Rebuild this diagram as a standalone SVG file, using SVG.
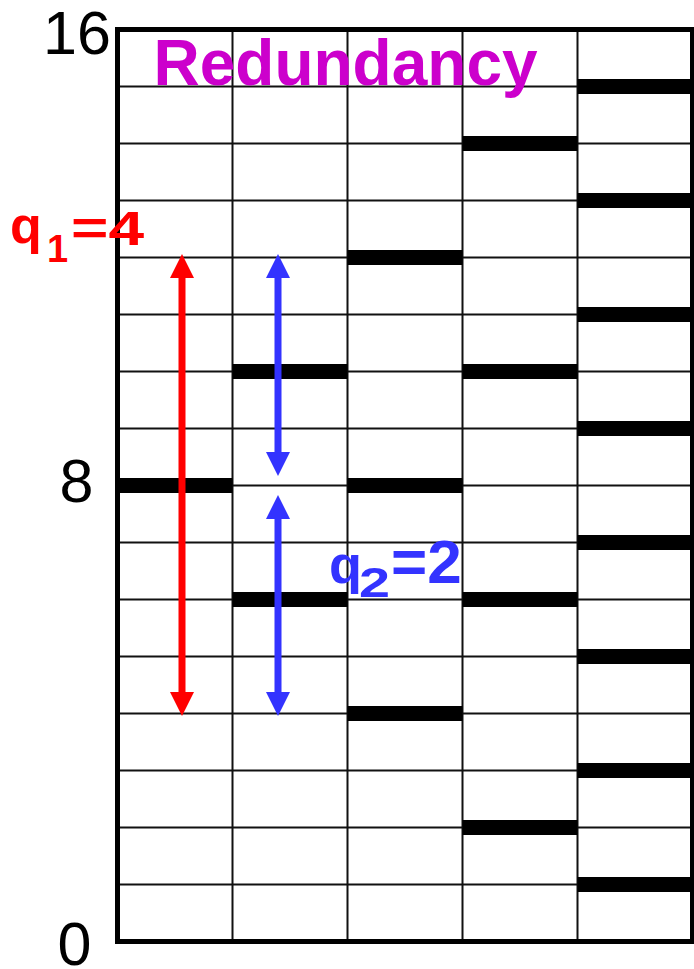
<svg xmlns="http://www.w3.org/2000/svg" width="694" height="969" viewBox="0 0 694 969">
<style>
.grid{stroke:#111;stroke-width:2;fill:none}
.border{stroke:#000;stroke-width:5;fill:none}
.bar{fill:#000}
.num{font-family:"Liberation Sans",Arial,sans-serif;font-size:61px;fill:#000;text-anchor:middle}
.lbl{font-family:"Liberation Sans",Arial,sans-serif;font-weight:bold}
.red{stroke:#FF0000;stroke-width:7}
.blue{stroke:#3333FF;stroke-width:7}
</style>
<defs>
<marker id="hr" viewBox="0 -12 24 24" markerWidth="24" markerHeight="24" refX="1" refY="0" markerUnits="userSpaceOnUse" orient="auto-start-reverse"><path d="M0,-12 L24,0 L0,12 Z" fill="#FF0000"/></marker>
<marker id="hb" viewBox="0 -12 24 24" markerWidth="24" markerHeight="24" refX="1" refY="0" markerUnits="userSpaceOnUse" orient="auto-start-reverse"><path d="M0,-12 L24,0 L0,12 Z" fill="#3333FF"/></marker>
</defs>
<rect width="694" height="969" fill="#fff"/>
<g id="grid" class="grid">
<path d="M117.5,86.5H692.5M117.5,143.5H692.5M117.5,200.5H692.5M117.5,257.5H692.5M117.5,314.5H692.5M117.5,371.5H692.5M117.5,428.5H692.5M117.5,485.5H692.5M117.5,542.5H692.5M117.5,599.5H692.5M117.5,656.5H692.5M117.5,713.5H692.5M117.5,770.5H692.5M117.5,827.5H692.5M117.5,884.5H692.5"/>
<path d="M232.5,29.5V941.5M347.5,29.5V941.5M462.5,29.5V941.5M577.5,29.5V941.5"/>
</g>
<g id="col1" class="bar"><rect x="117.5" y="478" width="115" height="15"/></g>
<g id="col2" class="bar"><rect x="232.5" y="364" width="115" height="15"/><rect x="232.5" y="592" width="115" height="15"/></g>
<g id="col3" class="bar"><rect x="347.5" y="250" width="115" height="15"/><rect x="347.5" y="478" width="115" height="15"/><rect x="347.5" y="706" width="115" height="15"/></g>
<g id="col4" class="bar"><rect x="462.5" y="136" width="115" height="15"/><rect x="462.5" y="364" width="115" height="15"/><rect x="462.5" y="592" width="115" height="15"/><rect x="462.5" y="820" width="115" height="15"/></g>
<g id="col5" class="bar"><rect x="577.5" y="79" width="117" height="15"/><rect x="577.5" y="193" width="117" height="15"/><rect x="577.5" y="307" width="117" height="15"/><rect x="577.5" y="421" width="117" height="15"/><rect x="577.5" y="535" width="117" height="15"/><rect x="577.5" y="649" width="117" height="15"/><rect x="577.5" y="763" width="117" height="15"/><rect x="577.5" y="877" width="117" height="15"/></g>
<rect id="frame" class="border" x="117.5" y="29.5" width="575" height="912"/>
<g id="axis">
<text class="num" x="77" y="54" font-size="62">16</text>
<text class="num" x="76.5" y="501.5">8</text>
<text class="num" x="74.5" y="965">0</text>
</g>
<g id="title"><text class="lbl" x="153.5" y="85" font-size="64" fill="#CC00CC">Redundancy</text></g>
<g id="connectors">
<line class="red" x1="182" y1="277" x2="182" y2="693" marker-start="url(#hr)" marker-end="url(#hr)"/>
<line class="blue" x1="278" y1="277" x2="278" y2="453" marker-start="url(#hb)" marker-end="url(#hb)"/>
<line class="blue" x1="278" y1="518" x2="278" y2="693" marker-start="url(#hb)" marker-end="url(#hb)"/>
</g>
<g id="q1" fill="#FF0000">
<text class="lbl" x="10" y="243" font-size="52">q<tspan x="47" y="262" font-size="38">1</tspan><tspan x="71" y="245" font-size="49" textLength="73" lengthAdjust="spacingAndGlyphs">=4</tspan></text>
</g>
<g id="q2" fill="#3333FF">
<text class="lbl" x="329" y="583" font-size="54">q<tspan x="359" y="597" font-size="42" textLength="31" lengthAdjust="spacingAndGlyphs">2</tspan><tspan x="391" y="583" font-size="62">=2</tspan></text>
</g>
</svg>
